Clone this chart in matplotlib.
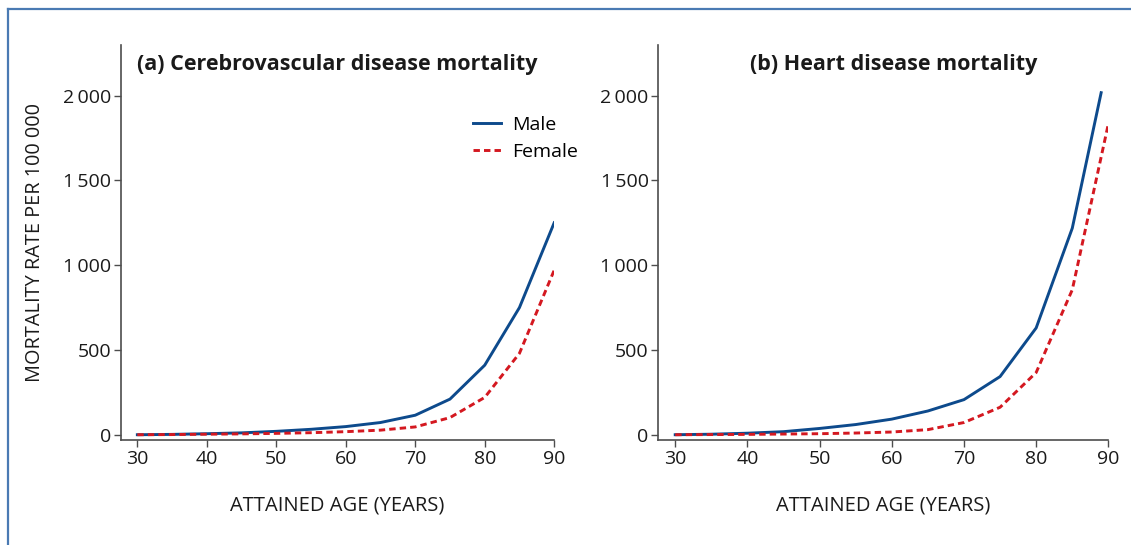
import matplotlib.pyplot as plt
from matplotlib.ticker import FuncFormatter
from matplotlib.lines import Line2D

plt.rcParams['font.family'] = ['Open Sans', 'DejaVu Sans']

ages = [30, 35, 40, 45, 50, 55, 60, 65, 70, 75, 80, 85, 90]
heart_male_ages = [30, 35, 40, 45, 50, 55, 60, 65, 70, 75, 80, 85, 89]

cere_male = [0, 2, 6, 11, 20, 32, 48, 72, 115, 210, 410, 750, 1250]
cere_female = [0, 1, 3, 5, 8, 12, 18, 27, 46, 101, 220, 480, 970]
heart_male = [0, 3, 9, 18, 37, 60, 92, 140, 207, 343, 630, 1218, 2017]
heart_female = [0, 1, 2, 4, 6, 10, 16, 30, 72, 162, 367, 855, 1834]

titles = ['(a) Cerebrovascular disease mortality', '(b) Heart disease mortality']
x_ticks = [30, 40, 50, 60, 70, 80, 90]
y_ticks = [0, 500, 1000, 1500, 2000]

male_color = '#0d4a8c'
female_color = '#d41820'
spine_color = '#4d4d4d'
text_color = '#1a1a1a'

fig = plt.figure(figsize=(11.31, 5.45), dpi=100)

# blue frame, only left and top edges are visible
fig.add_artist(Line2D([7.7 / 1131, 7.7 / 1131], [0, 1 - 9 / 545], color='#4a7ab3', lw=1.6))
fig.add_artist(Line2D([7.7 / 1131, 1], [1 - 9 / 545, 1 - 9 / 545], color='#4a7ab3', lw=1.6))

ax1 = fig.add_axes([0.107, 0.193, 0.383, 0.725])
ax2 = fig.add_axes([0.582, 0.193, 0.398, 0.725])

ax1.plot(ages, cere_male, color=male_color, lw=2.1, label='Male')
ax1.plot(ages, cere_female, color=female_color, lw=2.1, dashes=(2.2, 1.4), label='Female')
ax2.plot(heart_male_ages, heart_male, color=male_color, lw=2.1)
ax2.plot(ages, heart_female, color=female_color, lw=2.1, dashes=(2.2, 1.4))

# thousands separated by a thin space, like "2 000"
fmt = FuncFormatter(lambda v, p: f'{int(v):,}'.replace(',', '\u2009'))

title_x = [0.5, 0.522]
for ax, title, tx in zip([ax1, ax2], titles, title_x):
    ax.set_xlim(27.65, 90)
    ax.set_ylim(-30, 2300)
    ax.set_xticks(x_ticks)
    ax.set_yticks(y_ticks)
    ax.yaxis.set_major_formatter(fmt)
    ax.spines['top'].set_visible(False)
    ax.spines['right'].set_visible(False)
    for s in ['left', 'bottom']:
        ax.spines[s].set_color(spine_color)
        ax.spines[s].set_linewidth(1.2)
    ax.tick_params(direction='out', length=5, width=1.0, color=spine_color,
                   labelsize=14, labelcolor=text_color, pad=2)
    ax.set_xlabel('ATTAINED AGE (YEARS)', fontsize=14.5, color=text_color, labelpad=20)
    ax.text(tx, 0.95, title, transform=ax.transAxes, ha='center', va='center',
            fontsize=15.5, fontweight='bold', color=text_color)

ax1.set_ylabel('MORTALITY RATE PER 100 000', fontsize=14.3, color=text_color, labelpad=13)

ax1.legend(loc='upper right', bbox_to_anchor=(1.095, 0.865), frameon=False, fontsize=14,
           handlelength=1.45, handletextpad=0.55, labelspacing=0.5)

fig.savefig('out.png', dpi=100)
